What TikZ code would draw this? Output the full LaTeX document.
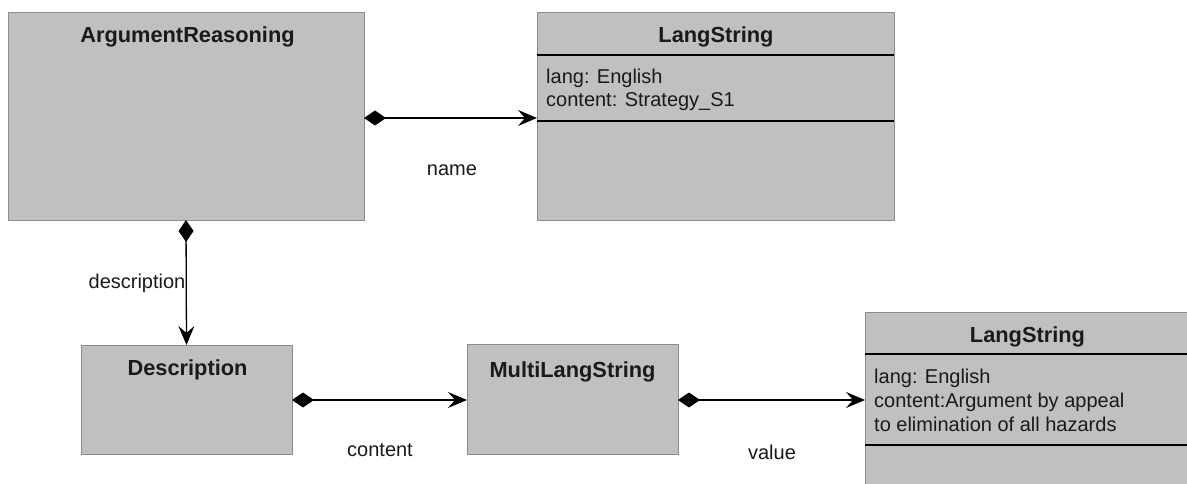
\documentclass[tikz,border=0pt]{standalone}
\usepackage{fontspec}
\setmainfont{Liberation Sans}
\usetikzlibrary{arrows.meta}
\definecolor{boxfill}{HTML}{C0C0C0}
\definecolor{boxedge}{HTML}{8C8C8C}
\definecolor{txt}{HTML}{1A1A1A}
\tikzset{
  umlbox/.style={draw=boxedge, line width=0.9pt, fill=boxfill, inner sep=0pt, outer sep=0pt},
  boxtitle/.style={font=\fontsize{21.8pt}{25pt}\selectfont\bfseries, text=txt, inner sep=0pt, anchor=base},
  attr/.style={font=\fontsize{20pt}{23pt}\selectfont, text=txt, inner sep=0pt, anchor=base west},
  lbl/.style={font=\fontsize{20pt}{23pt}\selectfont, text=txt, inner sep=0pt},
  divider/.style={line width=1.3pt, black},
  comp/.style={line width=1.3pt, black,
    {Diamond[length=22pt,width=15pt]}-{Stealth[length=19pt,width=16pt,inset=7pt]}},
}
\begin{document}
\begin{tikzpicture}[x=1pt,y=-1pt]
\useasboundingbox (0,0) rectangle (1187,484);
\clip (0,0) rectangle (1187,484);
\fill[white] (0,0) rectangle (1187,484);

% boxes
\node[umlbox, minimum width=356pt, minimum height=208pt] (ar) at (186,116) {};
\node[umlbox, minimum width=357pt, minimum height=208pt] (ls1) at (715.5,116) {};
\node[umlbox, minimum width=211pt, minimum height=109pt] (desc) at (186.5,399.5) {};
\node[umlbox, minimum width=211pt, minimum height=110pt] (mls) at (572.5,399) {};
\node[umlbox, minimum width=325pt, minimum height=200pt] (ls2) at (1027.5,412) {};

% dividers
\draw[divider] (ls1.west |- 0,55) coordinate (d1a) -- (ls1.east |- 0,55) coordinate (d1b);
\draw[divider] (ls1.west |- 0,121) coordinate (d2a) -- (ls1.east |- 0,121) coordinate (d2b);
\draw[divider] (ls2.west |- 0,354) coordinate (d3a) -- (ls2.east |- 0,354) coordinate (d3b);
\draw[divider] (ls2.west |- 0,445) coordinate (d4a) -- (ls2.east |- 0,445) coordinate (d4b);

% titles
\node[boxtitle] (arT) at (187.5,43) {ArgumentReasoning};
\node[boxtitle] (ls1T) at (716,43) {LangString};
\node[boxtitle] (descT) at (187.5,375) {Description};
\node[boxtitle] (mlsT) at (572.5,377) {MultiLangString};
\node[boxtitle] (ls2T) at (1027.5,342) {LangString};

% attributes
\node[attr] (ls1a) at (546,84) {lang: English};
\node[attr] (ls1b) at (546,107) {content: Strategy\_S1};
\node[attr] (ls2a) at (874,383) {lang: English};
\node[attr] (ls2b) at (874,407) {content:Argument by appeal};
\node[attr] (ls2c) at (874,431) {to elimination of all hazards};

% connectors
\draw[comp] (ar.east |- 0,118) -- (ls1.west |- 0,118);
\draw[comp] (ar.south) -- (desc.north);
\draw[comp] (desc.east |- 0,400) -- (mls.west |- 0,400);
\draw[comp] (mls.east |- 0,400) -- (ls2.west |- 0,400);

% labels
\node[lbl] (lname) at (452,170) {name};
\node[lbl] (ldesc) at (137,283) {description};
\node[lbl] (lcont) at (380,450) {content};
\node[lbl] (lval) at (772,452) {value};
\end{tikzpicture}
\end{document}
